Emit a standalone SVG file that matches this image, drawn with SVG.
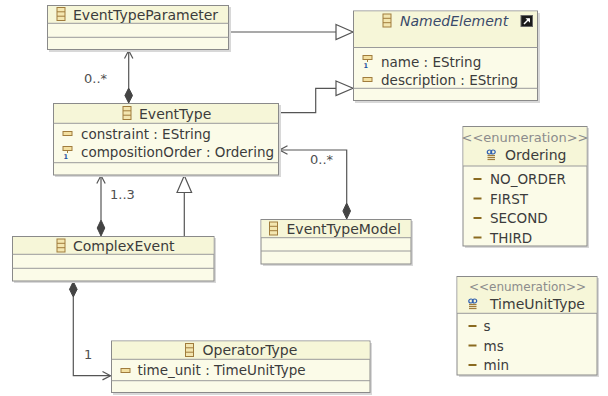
<svg xmlns="http://www.w3.org/2000/svg" width="608" height="396" viewBox="0 0 608 396">
<style>
text{font-family:"DejaVu Sans","Liberation Sans",sans-serif;fill:#3c3c3c}
.t{font-size:14px}
.a{font-size:13.5px}
.lbl{font-size:13px;fill:#505050}
.st{font-size:13px;fill:#8c8c8c}
.box{fill:#fbfbe8;stroke:#8a8a8a;stroke-width:1}
.band{fill:#f6f6d8}
.sh{fill:#d8d8d8}
.sep{stroke:#9a9a9a;stroke-width:1}
.ln{fill:none;stroke:#555555;stroke-width:1.2}
.tri{fill:#ffffff;stroke:#555555;stroke-width:1.2}
.dia{fill:#444444;stroke:#444444;stroke-width:1}
.arr{fill:none;stroke:#555555;stroke-width:1.2}
.lit{stroke:#8a6a20;stroke-width:2}
</style>
<defs>
<g id="cls">
<rect x="0.5" y="0.5" width="8" height="13" fill="#f3e6b0" stroke="#a07c3c"/>
<line x1="0.5" y1="4.8" x2="8.5" y2="4.8" stroke="#a07c3c"/>
<line x1="0.5" y1="9.2" x2="8.5" y2="9.2" stroke="#a07c3c"/>
</g>
<g id="att">
<rect x="0.5" y="0.5" width="9" height="4" fill="#f3e0a0" stroke="#a07c3c"/>
</g>
<g id="att1">
<rect x="0.5" y="0.5" width="9" height="4" fill="#f3e0a0" stroke="#a07c3c"/>
<line x1="5" y1="4.5" x2="5" y2="7" stroke="#a07c3c"/>
</g>
<g id="enm">
<ellipse cx="3" cy="2.5" rx="2.2" ry="2" fill="none" stroke="#3060b0" stroke-width="1.2"/>
<ellipse cx="6.5" cy="2.5" rx="2.2" ry="2" fill="none" stroke="#3060b0" stroke-width="1.2"/>
<line x1="1" y1="6" x2="8.5" y2="6" stroke="#a07c3c" stroke-width="1.2"/>
<line x1="1" y1="8" x2="8.5" y2="8" stroke="#a07c3c" stroke-width="1.2"/>
<line x1="1" y1="10" x2="8.5" y2="10" stroke="#a07c3c" stroke-width="1.2"/>
</g>
</defs>

<g id="connectors">
<!-- EventTypeParameter -> NamedElement (generalization) -->
<line class="ln" x1="229" y1="32" x2="336" y2="32"/>
<polygon class="tri" points="336,24.5 353,32 336,39.5"/>
<!-- EventType -> NamedElement (generalization) -->
<polyline class="ln" points="279,112.7 315.7,112.7 315.7,88.3 336,88.3"/>
<polygon class="tri" points="336,81 353,88.3 336,95.6"/>
<!-- EventType composition to EventTypeParameter -->
<line class="ln" x1="128.7" y1="88" x2="128.7" y2="50.5"/>
<polyline class="arr" points="124.5,58.5 128.7,50.5 132.9,58.5"/>
<polygon class="dia" points="128.7,88 132.5,95.5 128.7,103 124.9,95.5"/>
<text class="lbl" x="84" y="82.5">0..*</text>
<!-- EventTypeModel -> EventType -->
<polyline class="ln" points="346.7,203 346.7,150 279.5,150"/>
<polyline class="arr" points="287.5,145.8 279.5,150 287.5,154.2"/>
<polygon class="dia" points="346.7,203 350.5,211 346.7,219 342.9,211"/>
<text class="lbl" x="310" y="164">0..*</text>
<!-- ComplexEvent -> EventType composition -->
<line class="ln" x1="101" y1="220" x2="101" y2="175.5"/>
<polyline class="arr" points="96.8,183.5 101,175.5 105.2,183.5"/>
<polygon class="dia" points="101,220 104.8,228 101,236 97.2,228"/>
<text class="lbl" x="110" y="199">1..3</text>
<!-- ComplexEvent -> EventType generalization -->
<line class="ln" x1="184.3" y1="236" x2="184.3" y2="192.5"/>
<polygon class="tri" points="177,192.5 184.3,175.5 191.6,192.5"/>
<!-- ComplexEvent -> OperatorType composition -->
<polyline class="ln" points="73.3,297 73.3,375.7 110.5,375.7"/>
<polyline class="arr" points="102.5,371.5 110.5,375.7 102.5,379.9"/>
<polygon class="dia" points="73.3,281.5 77.1,289.3 73.3,297 69.5,289.3"/>
<text class="lbl" x="84" y="359">1</text>
</g>

<g id="EventTypeParameter">
<rect class="sh" x="49" y="7" width="182" height="45"/>
<rect class="box" x="47.5" y="5.5" width="181" height="44"/>
<rect class="band" x="48" y="6" width="180" height="17"/>
<line class="sep" x1="47.5" y1="23.3" x2="228.5" y2="23.3"/>
<line class="sep" x1="47.5" y1="37.3" x2="228.5" y2="37.3"/>
<use href="#cls" x="56.5" y="7"/>
<text class="t" x="73" y="19.5">EventTypeParameter</text>
</g>

<g id="NamedElement">
<rect class="sh" x="355" y="13" width="185" height="90"/>
<rect class="box" x="353.5" y="11" width="184" height="89.5"/>
<rect class="band" x="354" y="11.5" width="183" height="36"/>
<line class="sep" x1="353.5" y1="47.5" x2="537.5" y2="47.5"/>
<line class="sep" x1="353.5" y1="88.3" x2="537.5" y2="88.3"/>
<use href="#cls" x="382.5" y="13.5"/>
<text class="t" x="400" y="26" style="font-style:italic;fill:#3a4a6a">NamedElement</text>
<rect x="521" y="15.5" width="11.5" height="11" fill="#1a1a1a" stroke="#666" stroke-width="1"/>
<polyline points="524,24 529,19" fill="none" stroke="#ffffff" stroke-width="1.5"/>
<polygon points="525.5,18.2 530,18.2 530,22.7" fill="#ffffff"/>
<use href="#att1" x="362.5" y="55"/>
<text x="363.5" y="68" style="font-size:6.5px;font-weight:bold;fill:#2050a0">1</text>
<text class="a" x="381" y="66.5">name : EString</text>
<use href="#att" x="362.5" y="77"/>
<text class="a" x="381" y="84.5">description : EString</text>
</g>

<g id="EventType">
<rect class="sh" x="55" y="105" width="226" height="72"/>
<rect class="box" x="53.5" y="103.5" width="225" height="71.5"/>
<rect class="band" x="54" y="104" width="224" height="19"/>
<line class="sep" x1="53.5" y1="123.3" x2="278.5" y2="123.3"/>
<line class="sep" x1="53.5" y1="162.7" x2="278.5" y2="162.7"/>
<use href="#cls" x="122.5" y="106"/>
<text class="t" x="139" y="119">EventType</text>
<use href="#att" x="62.5" y="131"/>
<text class="a" x="81" y="139">constraint : EString</text>
<use href="#att1" x="62.5" y="146"/>
<text x="63.5" y="159" style="font-size:6.5px;font-weight:bold;fill:#2050a0">1</text>
<text class="a" x="81" y="156.5">compositionOrder : Ordering</text>
</g>

<g id="EventTypeModel">
<rect class="sh" x="263" y="221" width="150" height="45"/>
<rect class="box" x="261" y="219.5" width="150" height="44.5"/>
<rect class="band" x="261.5" y="220" width="149" height="17.5"/>
<line class="sep" x1="261" y1="237.7" x2="411" y2="237.7"/>
<line class="sep" x1="261" y1="251" x2="411" y2="251"/>
<use href="#cls" x="269" y="221.5"/>
<text class="t" x="286.5" y="233.5">EventTypeModel</text>
</g>

<g id="ComplexEvent">
<rect class="sh" x="14" y="238" width="202" height="45"/>
<rect class="box" x="12.5" y="236.5" width="201.5" height="44.5"/>
<rect class="band" x="13" y="237" width="200.5" height="17"/>
<line class="sep" x1="12.5" y1="254.3" x2="214" y2="254.3"/>
<line class="sep" x1="12.5" y1="268.3" x2="214" y2="268.3"/>
<use href="#cls" x="56.5" y="238.5"/>
<text class="t" x="73" y="251">ComplexEvent</text>
</g>

<g id="OperatorType">
<rect class="sh" x="113" y="343" width="259" height="52"/>
<rect class="box" x="111.5" y="341" width="258.5" height="51.5"/>
<rect class="band" x="112" y="341.5" width="257.5" height="18"/>
<line class="sep" x1="111.5" y1="359.3" x2="370" y2="359.3"/>
<line class="sep" x1="111.5" y1="380.7" x2="370" y2="380.7"/>
<use href="#cls" x="185" y="343"/>
<text class="t" x="202.5" y="355">OperatorType</text>
<use href="#att" x="120.5" y="368"/>
<text class="a" x="137.5" y="375">time_unit : TimeUnitType</text>
</g>

<g id="Ordering">
<rect class="sh" x="465" y="128" width="124" height="120"/>
<rect class="box" x="463" y="126.5" width="124" height="119.5"/>
<rect class="band" x="463.5" y="127" width="123" height="39"/>
<line class="sep" x1="463" y1="166" x2="587" y2="166"/>
<text class="st" x="525" y="141.5" text-anchor="middle">&lt;&lt;enumeration&gt;&gt;</text>
<use href="#enm" x="486.5" y="149.5"/>
<text class="t" x="505" y="160">Ordering</text>
<line class="lit" x1="473.5" y1="179" x2="481.5" y2="179"/>
<text class="a" x="490" y="184">NO_ORDER</text>
<line class="lit" x1="473.5" y1="198.5" x2="481.5" y2="198.5"/>
<text class="a" x="490" y="203.5">FIRST</text>
<line class="lit" x1="473.5" y1="218" x2="481.5" y2="218"/>
<text class="a" x="490" y="223">SECOND</text>
<line class="lit" x1="473.5" y1="237.5" x2="481.5" y2="237.5"/>
<text class="a" x="490" y="242.5">THIRD</text>
</g>

<g id="TimeUnitType">
<rect class="sh" x="459" y="278" width="140" height="99"/>
<rect class="box" x="457" y="276.5" width="140" height="98.5"/>
<rect class="band" x="457.5" y="277" width="139" height="36"/>
<line class="sep" x1="457" y1="313.3" x2="597" y2="313.3"/>
<text class="st" x="527.5" y="291" text-anchor="middle" style="font-size:12px">&lt;&lt;enumeration&gt;&gt;</text>
<use href="#enm" x="468" y="298.5"/>
<text class="t" x="490" y="309">TimeUnitType</text>
<line class="lit" x1="468.5" y1="326" x2="476.5" y2="326"/>
<text class="a" x="483.5" y="331">s</text>
<line class="lit" x1="468.5" y1="345.5" x2="476.5" y2="345.5"/>
<text class="a" x="483.5" y="350.5">ms</text>
<line class="lit" x1="468.5" y1="365" x2="476.5" y2="365"/>
<text class="a" x="483.5" y="370">min</text>
</g>
</svg>
